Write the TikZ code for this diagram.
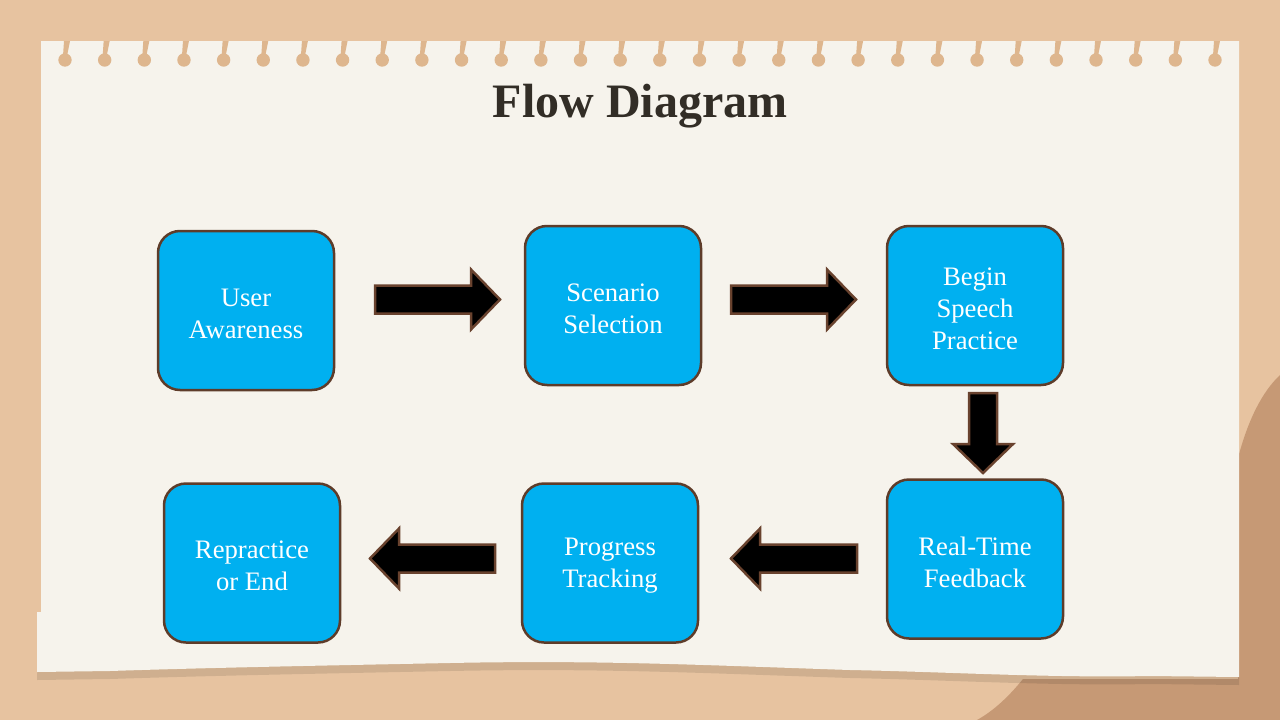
\documentclass[tikz,border=0pt]{standalone}
\usepackage{fontspec}
\setmainfont{Liberation Serif}
\definecolor{kraft}{RGB}{231,195,160}
\definecolor{kraftdark}{RGB}{198,153,117}
\definecolor{holec}{RGB}{222,182,142}
\definecolor{paper}{RGB}{246,243,236}
\definecolor{boxblue}{RGB}{0,176,240}
\definecolor{boxborder}{RGB}{94,60,42}
\definecolor{arrowborder}{RGB}{105,66,46}
\definecolor{titlec}{RGB}{50,45,38}
\newcommand\flowarrow[4]{% x, y, length, rotation
  \begin{scope}[shift={(#1,#2)},rotate=#4]
    \draw[flowarrowstyle] (0,-14) -- (#3-29,-14) -- (#3-29,-30) -- (#3,0) -- (#3-29,30) -- (#3-29,14) -- (0,14) -- cycle;
  \end{scope}}
\tikzset{
  stepbox/.style={draw=boxborder, line width=2.5pt, fill=boxblue, rounded corners=22pt,
    minimum width=176pt, minimum height=159pt},
  boxtext/.style={text=white, align=center, yshift=-3pt,
    font=\fontsize{26.67}{32}\selectfont},
  flowarrowstyle/.style={draw=arrowborder, line width=2.5pt, fill=black, line join=miter},
}
\begin{document}
\begin{tikzpicture}[x=1pt,y=-1pt]
\useasboundingbox (0,0) rectangle (1280,720);
% background
\fill[kraft] (0,0) rectangle (1280,720);
\fill[kraftdark] (1280,375) .. controls (1262,392) and (1248,420) .. (1238,458) -- (1238,679) -- (1023,679)
  .. controls (1010,695) and (995,710) .. (977,720) -- (1280,720) -- cycle;
% paper shadow (bottom strip)
\fill[black,opacity=0.10] (1239,660) -- (1239,685) -- (1150,684)
  .. controls (1050,686) and (950,680) .. (850,678)
  .. controls (700,673) and (600,668) .. (450,671)
  .. controls (300,674) and (200,676) .. (110,679) -- (37,680) -- (37,655) -- cycle;
% paper
\fill[paper] (41,41) -- (1239,41) -- (1239,677) -- (1150,676)
  .. controls (1050,678) and (950,672) .. (850,670)
  .. controls (700,665) and (600,660) .. (450,663)
  .. controls (300,666) and (200,668) .. (110,671) -- (37,672) -- (37,612) -- (41,612) -- cycle;
% holes
\foreach \i in {0,...,29}{
  \pgfmathsetmacro\hx{65+\i*39.655}
  \fill[holec] (\hx-2,56) -- (\hx-1,41) -- (\hx+5,41) -- (\hx+2,56) -- cycle;
  \fill[holec] (\hx,60) circle (6.7);
}
% title
\node[text=titlec, font=\fontsize{48}{56}\selectfont\bfseries] (title) at (640,106) {Flow Diagram};
% boxes
\node[stepbox, label={[boxtext]center:User\\Awareness}] (b1) at (246,310.5) {};
\node[stepbox, label={[boxtext]center:Scenario\\Selection}] (b2) at (613,305.5) {};
\node[stepbox, label={[boxtext]center:Begin\\Speech\\Practice}] (b3) at (975,305.5) {};
\node[stepbox, label={[boxtext]center:Real-Time\\Feedback}] (b4) at (975,559) {};
\node[stepbox, label={[boxtext]center:Progress\\Tracking}] (b5) at (610,563) {};
\node[stepbox, label={[boxtext]center:Repractice\\or End}] (b6) at (252,563) {};
% arrows
\flowarrow{375}{299.5}{125}{0}
\flowarrow{731}{299.5}{125}{0}
\flowarrow{983}{393}{80}{-90}
\flowarrow{857}{558.5}{126}{180}
\flowarrow{495}{558.5}{125}{180}
\end{tikzpicture}
\end{document}
